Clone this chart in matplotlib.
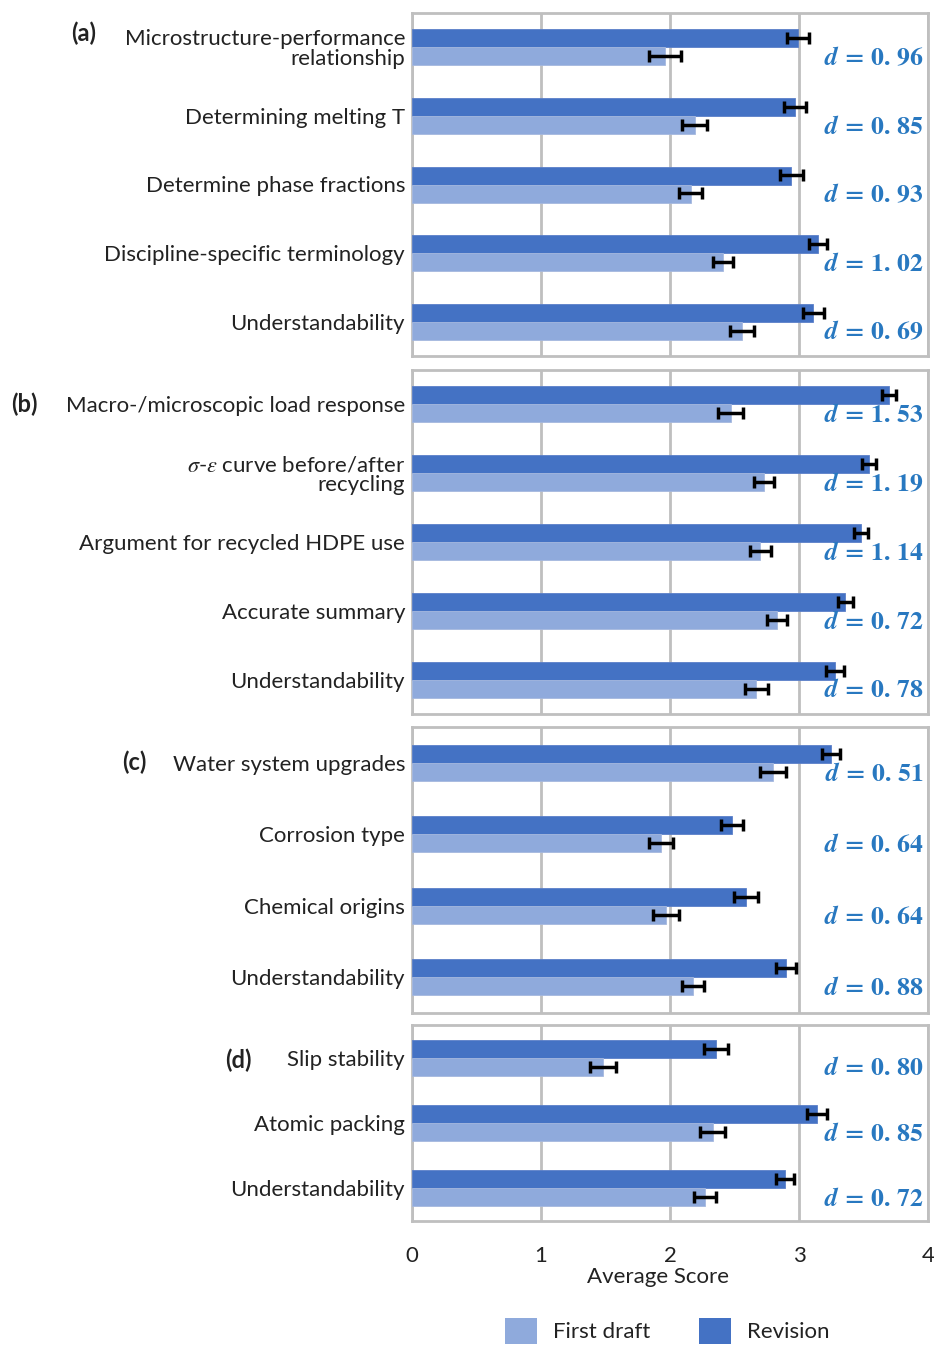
import matplotlib
matplotlib.use("Agg")
import matplotlib.pyplot as plt
from matplotlib.patches import Patch

plt.rcParams['font.family'] = ['Lato', 'DejaVu Sans']
plt.rcParams['mathtext.fontset'] = 'stix'

# ---------------- data ----------------
labels_a = ["Microstructure-performance\nrelationship", "Determining melting T",
            "Determine phase fractions", "Discipline-specific terminology", "Understandability"]
first_a = [1.96, 2.19, 2.16, 2.41, 2.56]
first_err_a = [0.125, 0.10, 0.09, 0.08, 0.095]
rev_a = [2.99, 2.97, 2.94, 3.15, 3.11]
rev_err_a = [0.085, 0.085, 0.09, 0.07, 0.08]
d_a = ["0.96", "0.85", "0.93", "1.02", "0.69"]

labels_b = ["Macro-/microscopic load response", "$\\sigma$-$\\varepsilon$ curve before/after\nrecycling",
            "Argument for recycled HDPE use", "Accurate summary", "Understandability"]
first_b = [2.47, 2.73, 2.70, 2.83, 2.67]
first_err_b = [0.095, 0.08, 0.08, 0.08, 0.09]
rev_b = [3.70, 3.54, 3.48, 3.36, 3.28]
rev_err_b = [0.055, 0.055, 0.055, 0.06, 0.07]
d_b = ["1.53", "1.19", "1.14", "0.72", "0.78"]

labels_c = ["Water system upgrades", "Corrosion type", "Chemical origins", "Understandability"]
first_c = [2.80, 1.93, 1.97, 2.18]
first_err_c = [0.10, 0.095, 0.10, 0.085]
rev_c = [3.25, 2.48, 2.59, 2.90]
rev_err_c = [0.07, 0.085, 0.095, 0.08]
d_c = ["0.51", "0.64", "0.64", "0.88"]

labels_d = ["Slip stability", "Atomic packing", "Understandability"]
first_d = [1.48, 2.33, 2.27]
first_err_d = [0.10, 0.095, 0.087]
rev_d = [2.36, 3.14, 2.89]
rev_err_d = [0.093, 0.078, 0.07]
d_d = ["0.80", "0.85", "0.72"]

panel_tags = ["(a)", "(b)", "(c)", "(d)"]
x_ticks = [0, 1, 2, 3, 4]

# ---------------- style ----------------
W, H = 934, 1346
C_REV = "#4472C4"
C_FIRST = "#8FAADC"
C_D = "#2878C0"
C_GRID = "#BFBFBF"
C_TXT = "#222222"
FS = 16

fig = plt.figure(figsize=(W / 100, H / 100), dpi=100)

panels = [
    (labels_a, first_a, first_err_a, rev_a, rev_err_a, d_a, (13, 356)),
    (labels_b, first_b, first_err_b, rev_b, rev_err_b, d_b, (370, 714)),
    (labels_c, first_c, first_err_c, rev_c, rev_err_c, d_c, (727, 1013)),
    (labels_d, first_d, first_err_d, rev_d, rev_err_d, d_d, (1025, 1221)),
]
tag_pos = [(84, 33), (24, 404), (134, 762), (238, 1060)]

x0_px, x1_px = 412, 928
axes = []
for k, (labs, fv, fe, rv, re_, dv, (top, bot)) in enumerate(panels):
    ax = fig.add_axes([x0_px / W, 1 - bot / H, (x1_px - x0_px) / W, (bot - top) / H])
    axes.append(ax)
    n = len(labs)
    px_per_unit = (bot - top) / n
    h = 18.0 / px_per_unit
    ys = list(range(n))
    y_rev = [y - h / 2 for y in ys]
    y_first = [y + h / 2 for y in ys]
    ax.barh(y_rev, rv, height=h, color=C_REV, edgecolor="#5B7FC8", linewidth=0.6, zorder=3)
    ax.barh(y_first, fv, height=h, color=C_FIRST, edgecolor="#A5B8DE", linewidth=0.6, zorder=3)
    ax.errorbar(rv, y_rev, xerr=re_, fmt="none", ecolor="black", elinewidth=2.5,
                capsize=4, capthick=2.5, zorder=4)
    ax.errorbar(fv, y_first, xerr=fe, fmt="none", ecolor="black", elinewidth=2.5,
                capsize=4, capthick=2.5, zorder=4)
    for y, dtxt in zip(y_first, dv):
        a, b = dtxt.split(".")
        ax.text(3.965, y + 0.02,
                r"$\mathbfit{d}\,\mathbf{=}\,\mathbf{" + a + r".\,} \mathbf{" + b + "}$",
                ha="right", va="center", color=C_D, fontsize=18.5, zorder=5)
    ax.set_xlim(0, 4)
    ax.set_ylim(n - 0.5, -0.5)
    ax.set_xticks(x_ticks)
    ax.grid(axis="x", color=C_GRID, linewidth=2, zorder=0)
    ax.set_yticks(ys)
    ax.set_yticklabels(labs, fontsize=FS, color=C_TXT, ha="right", multialignment="right",
                       linespacing=1.0)
    ax.tick_params(axis="y", length=0, pad=5)
    ax.tick_params(axis="x", length=0)
    for sp in ax.spines.values():
        sp.set_color(C_GRID)
        sp.set_linewidth(2)
    if k < 3:
        ax.set_xticklabels([])
    else:
        ax.set_xticklabels([str(t) for t in x_ticks], fontsize=FS, color=C_TXT)
        ax.tick_params(axis="x", pad=18)
        ax.set_xlabel("Average Score", fontsize=FS, color=C_TXT)
        ax.xaxis.set_label_coords(0.476, -0.235)
    tx, ty = tag_pos[k]
    fig.text(tx / W, 1 - ty / H, panel_tags[k], fontsize=17, fontweight="bold",
             color=C_TXT, ha="center", va="center")

handles = [Patch(facecolor=C_FIRST, label="First draft"), Patch(facecolor=C_REV, label="Revision")]
fig.legend(handles=handles, loc="center", bbox_to_anchor=(667 / W, 1 - 1331 / H), ncol=2,
           frameon=False, fontsize=FS, handlelength=1.45, handleheight=1.4,
           handletextpad=0.7, columnspacing=2.2, labelcolor=C_TXT)

fig.savefig("out.png", dpi=100)
